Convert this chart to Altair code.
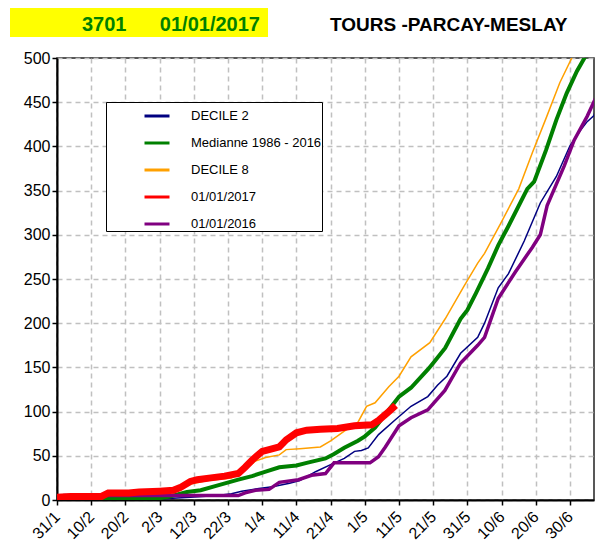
import altair as alt
import pandas as pd

# ---------------- data ----------------
series_names = ["DECILE 2", "Medianne 1986 - 2016", "DECILE 8", "01/01/2017", "01/01/2016"]
series_colors = ["#000080", "#008000", "#FFA000", "#FF0000", "#800080"]
series_widths = [1.5, 4, 1.5, 7, 3.5]
draw_order = ["DECILE 2", "DECILE 8", "Medianne 1986 - 2016", "01/01/2016", "01/01/2017"]

# day of year (31 = 31/1)
decile2_days = [31, 50, 61, 70, 78, 82, 85, 90, 94, 99, 102, 106.6, 111, 115, 118, 120, 122, 125, 130,
                134.5, 139.4, 142.3, 145, 149, 154, 156, 160, 163, 167.6, 172.3, 177, 181, 184, 186, 188, 189.5]
decile2_vals = [0, 0, 1, 3, 5, 7, 10, 13, 15, 19, 22, 32, 40, 47, 55, 56, 59, 74, 91,
                106, 117, 130, 140, 166, 184, 200, 240, 256, 293, 336, 366, 401, 418, 428, 435, 458]

median_days = [31, 46, 61, 64, 69, 73, 77.5, 84, 88, 92, 96, 101, 104, 109.5, 112, 115, 119, 121, 124, 126,
               129, 131, 134.5, 139.5, 141, 144.5, 149, 151, 153.5, 157, 160, 163, 168.5, 170.5, 174, 177,
               180, 183, 185.5]
median_vals = [0, 1, 2, 4, 9, 11, 16, 23, 27, 32, 37, 39, 42, 47, 52, 59, 67, 72, 82, 92,
               107, 117, 127, 148, 155, 172, 205, 215, 234, 262, 288, 310, 352, 360, 396, 430,
               460, 485, 502]

decile8_days = [31, 44, 50, 61, 66, 70, 75, 82, 86, 89, 92, 96, 98, 102, 108, 111, 115, 119, 121.5, 124,
                128, 131, 134.5, 140, 144.5, 150, 154, 156, 161, 166, 170, 174, 178, 182]
decile8_vals = [1, 3, 6, 8, 10, 18, 22, 25, 35, 44, 48, 51, 57, 58, 60, 67, 78, 88, 106, 110,
                128, 140, 162, 178, 205, 242, 268, 279, 315, 352, 393, 432, 472, 504]

y2017_days = [31, 35, 44, 46, 52, 55, 61, 65, 67, 70, 72, 76, 80, 84, 86, 88, 91, 93, 96, 98, 101, 104,
              108, 113, 118, 123, 125, 128, 130]
y2017_vals = [3, 4, 4, 8, 8, 9, 10, 11, 14, 21, 23, 25, 27, 30, 37, 45, 55, 57, 60, 68, 76, 79,
              80, 81, 84, 85, 90, 100, 107]

y2016_days = [31, 33, 84, 86, 89, 93, 96, 101.6, 105.4, 109.5, 112, 122.5, 125, 127, 130, 131, 134.5,
              139.4, 144.4, 149, 154, 156, 160, 165, 170, 172.3, 174.3, 179.3, 182.2, 186, 189.5]
y2016_vals = [2, 5, 5, 8, 11, 12, 20, 23, 28, 30, 42, 42, 49, 60, 78, 84, 93,
              102, 124, 155, 175, 184, 228, 258, 286, 300, 333, 378, 407, 434, 463]

tick_days = [31, 41, 51, 61, 71, 81, 91, 101, 111, 121, 131, 141, 151, 161, 171, 181]
tick_labels = ["31/1", "10/2", "20/2", "2/3", "12/3", "22/3", "1/4", "11/4", "21/4", "1/5",
               "11/5", "21/5", "31/5", "10/6", "20/6", "30/6"]
y_ticks = [0, 50, 100, 150, 200, 250, 300, 350, 400, 450, 500]

header_left = "3701\u00a0\u00a0\u00a0\u00a0\u00a0\u00a001/01/2017"
header_right = "TOURS -PARCAY-MESLAY"

# ---------------- build table ----------------
series_data = {
    "DECILE 2": (decile2_days, decile2_vals),
    "Medianne 1986 - 2016": (median_days, median_vals),
    "DECILE 8": (decile8_days, decile8_vals),
    "01/01/2017": (y2017_days, y2017_vals),
    "01/01/2016": (y2016_days, y2016_vals),
}
rows = []
for name, (ds, vs) in series_data.items():
    for d, v in zip(ds, vs):
        rows.append({"series": name, "day": d, "value": v})
df = pd.DataFrame(rows)
width_of = dict(zip(series_names, series_widths))

FONT = "Liberation Sans"
label_expr = "[" + ",".join(f"'{t}'" for t in tick_labels) + "][round((datum.value-31)/10)]"

x_enc = alt.X("day:Q",
              scale=alt.Scale(domain=[31, 188], nice=False, zero=False),
              axis=alt.Axis(values=tick_days, labelExpr=label_expr, labelAngle=-45,
                            labelAlign="right", labelBaseline="middle", labelPadding=9,
                            title=None))
y_enc = alt.Y("value:Q",
              scale=alt.Scale(domain=[0, 500], nice=False),
              axis=alt.Axis(values=y_ticks, title=None, labelPadding=2))

legend = alt.Legend(title=None, orient="none", legendX=49, legendY=44,
                    fillColor="white", strokeColor="black", padding=0,
                    symbolType="stroke", symbolSize=625, symbolStrokeWidth=3,
                    symbolOffset=37, labelOffset=20, rowPadding=6, labelLimit=300,
                    labelFontSize=13, labelFont=FONT, labelColor="black")

color_enc = alt.Color("series:N", scale=alt.Scale(domain=series_names, range=series_colors),
                      legend=legend)

layers = []
for name in draw_order:
    layers.append(
        alt.Chart(df[df["series"] == name]).mark_line(clip=True, strokeWidth=width_of[name]).encode(
            x=x_enc, y=y_enc, color=color_enc
        )
    )

header_box = alt.Chart(alt.Data(values=[{"t": header_left}])).mark_rect(color="#FFFF00").encode(
    x=alt.value(-47), x2=alt.value(211), y=alt.value(-51), y2=alt.value(-21)
)
header_text = alt.Chart(alt.Data(values=[{"t": header_left}])).mark_text(
    align="left", baseline="alphabetic", font=FONT, fontSize=20, fontWeight="bold", color="#008000"
).encode(x=alt.value(25), y=alt.value(-27), text="t:N")
title_text = alt.Chart(alt.Data(values=[{"t": header_right}])).mark_text(
    align="left", baseline="alphabetic", font=FONT, fontSize=19, fontWeight="bold", color="black"
).encode(x=alt.value(273), y=alt.value(-27), text="t:N")

chart = alt.layer(header_box, header_text, title_text, *layers).properties(
    width=537, height=442,
    padding={"left": 49, "top": 50, "right": 2, "bottom": 43},
    autosize=alt.AutoSizeParams(type="none"),
).configure_view(
    stroke="#222222", strokeWidth=1.5
).configure_axis(
    labelFont=FONT, labelFontSize=16, labelColor="black",
    domainColor="black", domainWidth=2,
    tickColor="black", tickSize=5, tickWidth=1.5,
    grid=True, gridColor="#c0c0c0", gridDash=[5, 4], gridWidth=1.5,
)

chart.save("out.html", embed_options={"renderer": "svg", "actions": False})
